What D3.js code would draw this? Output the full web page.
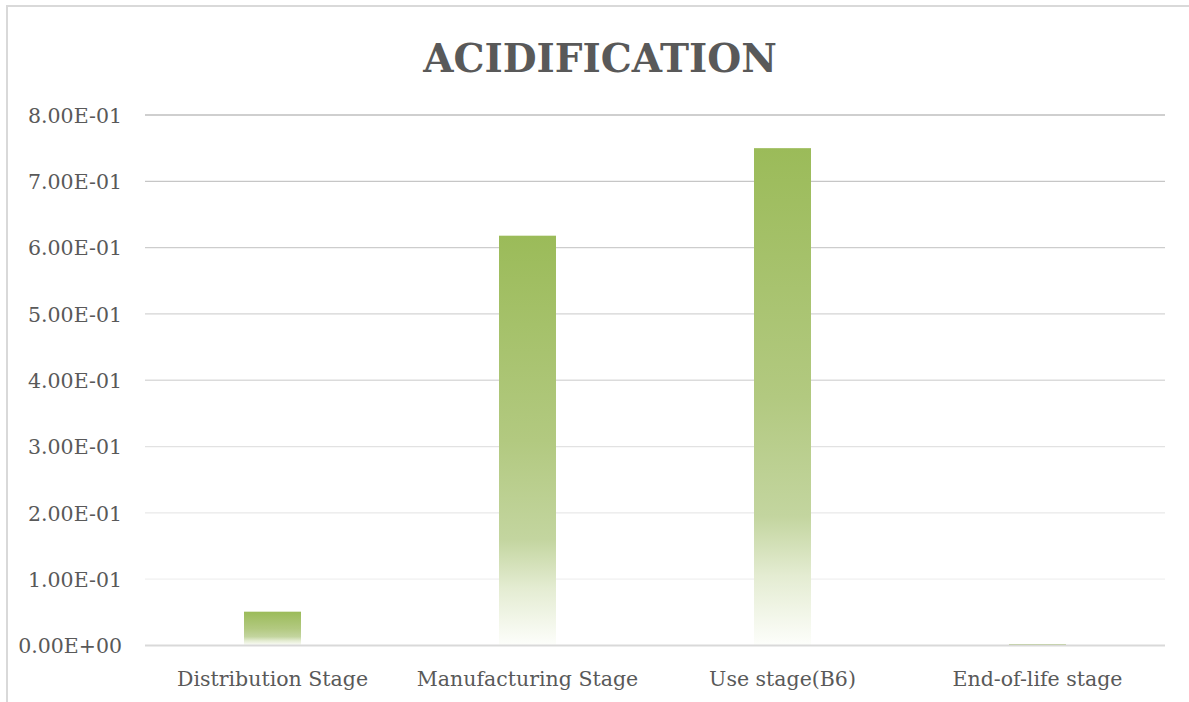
<!DOCTYPE html>
<html>
<head>
<meta charset="utf-8">
<script src="https://cdn.jsdelivr.net/npm/d3@7"></script>
<style>
  html, body { margin: 0; padding: 0; background: #ffffff; }
  svg { display: block; }
</style>
</head>
<body>
<svg id="chart" width="1189" height="702"></svg>
<script>
// Acidification impact per life-cycle stage
const chartTitle = "ACIDIFICATION";
const stages = ["Distribution Stage", "Manufacturing Stage", "Use stage(B6)", "End-of-life stage"];
const acidification = [0.051, 0.618, 0.750, 0.002];
const yTicks = [0, 0.1, 0.2, 0.3, 0.4, 0.5, 0.6, 0.7, 0.8];

// Scientific notation in the "8.00E-01" style
function sci(v) {
  if (v === 0) return "0.00E+00";
  const exp = Math.floor(Math.log10(Math.abs(v)));
  const mant = v / Math.pow(10, exp);
  const sign = exp < 0 ? "-" : "+";
  return mant.toFixed(2) + "E" + sign + String(Math.abs(exp)).padStart(2, "0");
}

const svg = d3.select("#chart");
const W = 1189, H = 702;
const margin = { left: 145, right: 24, top: 115, bottom: 56 };
const plotW = W - margin.left - margin.right;   // 1020
const plotH = H - margin.top - margin.bottom;

const textColor = "#595959";
const serif = "'DejaVu Serif', 'Liberation Serif', serif";

// chart frame
svg.append("rect")
  .attr("x", 7).attr("y", 6)
  .attr("width", 1300).attr("height", 800)
  .attr("fill", "#ffffff")
  .attr("stroke", "#d9d9d9").attr("stroke-width", 2);

// bar fill: full green at the top fading to white at the base
const defs = svg.append("defs");
const grad = defs.append("linearGradient")
  .attr("id", "barFill")
  .attr("x1", 0).attr("y1", 0).attr("x2", 0).attr("y2", 1);
[[0, "#9bbb59"], [0.5, "#b2c980"], [0.74, "#c3d59f"], [0.86, "#e4ecd2"], [1, "#fdfefb"]]
  .forEach(([o, c]) => grad.append("stop").attr("offset", o).attr("stop-color", c));

const x = d3.scaleBand()
  .domain(stages)
  .range([margin.left, margin.left + plotW])
  .paddingInner(0.7765)
  .paddingOuter(0.7765 / 2);

const y = d3.scaleLinear()
  .domain([0, 0.8])
  .range([H - margin.bottom - 0.5, margin.top]);

// gridlines, darker near the top
const gridColor = d3.scaleLinear().domain([0.8, 0.1]).range(["#bfbfbf", "#f0f0f0"]);
svg.append("g")
  .selectAll("line")
  .data(yTicks.filter(t => t > 0))
  .join("line")
  .attr("x1", margin.left).attr("x2", margin.left + plotW)
  .attr("y1", d => y(d)).attr("y2", d => y(d))
  .attr("stroke", d => gridColor(d))
  .attr("stroke-width", 1.3);

// bars
svg.append("g")
  .selectAll("rect")
  .data(stages.map((s, i) => ({ stage: s, value: acidification[i] })))
  .join("rect")
  .attr("x", d => x(d.stage))
  .attr("width", x.bandwidth())
  .attr("y", d => y(d.value))
  .attr("height", d => y(0) - y(d.value))
  .attr("fill", "url(#barFill)");

// baseline
svg.append("line")
  .attr("x1", margin.left).attr("x2", margin.left + plotW)
  .attr("y1", y(0)).attr("y2", y(0))
  .attr("stroke", "#d9d9d9").attr("stroke-width", 2);

// y axis labels
const yAxis = d3.axisLeft(y).tickValues(yTicks).tickFormat(sci).tickSize(0).tickPadding(0);
const gy = svg.append("g")
  .attr("transform", `translate(${122},0)`)
  .call(yAxis);
gy.select(".domain").remove();
gy.selectAll("text")
  .attr("fill", textColor)
  .style("font-family", serif)
  .style("font-size", "20.5px")
  .attr("dy", "0.35em");

// category labels
const xAxis = d3.axisBottom(x).tickSize(0).tickPadding(0);
const gx = svg.append("g")
  .attr("transform", `translate(0,${671})`)
  .call(xAxis);
gx.select(".domain").remove();
gx.selectAll("text")
  .attr("fill", textColor)
  .style("font-family", serif)
  .style("font-size", "20.5px")
  .attr("dy", "0.71em");

// title
svg.append("text")
  .attr("x", 600).attr("y", 72)
  .attr("text-anchor", "middle")
  .attr("fill", textColor)
  .style("font-family", serif)
  .style("font-weight", "bold")
  .style("font-size", "39px")
  .text(chartTitle);
</script>
</body>
</html>
